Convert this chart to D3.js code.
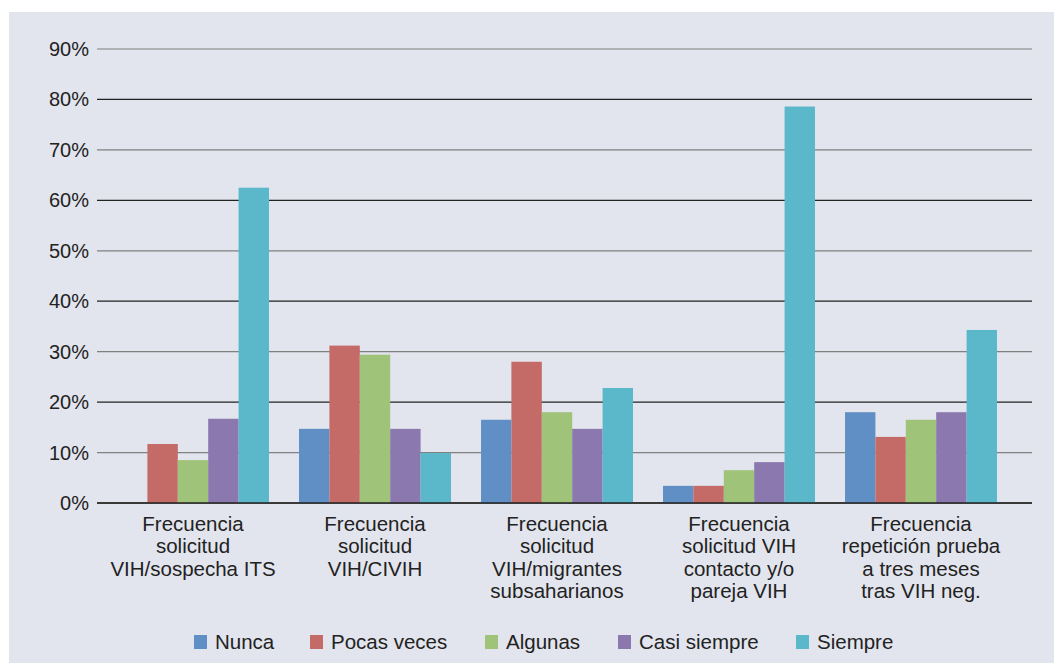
<!DOCTYPE html>
<html>
<head>
<meta charset="utf-8">
<script src="https://cdn.jsdelivr.net/npm/d3@7"></script>
<style>
  body { margin: 0; background: #fff; }
  svg { display: block; font-family: "Liberation Sans", Arial, sans-serif; }
</style>
</head>
<body>
<div id="chart"></div>
<script>
const categories = [
  ["Frecuencia", "solicitud", "VIH/sospecha ITS"],
  ["Frecuencia", "solicitud", "VIH/CIVIH"],
  ["Frecuencia", "solicitud", "VIH/migrantes", "subsaharianos"],
  ["Frecuencia", "solicitud VIH", "contacto y/o", "pareja VIH"],
  ["Frecuencia", "repetición prueba", "a tres meses", "tras VIH neg."]
];
const seriesNames = ["Nunca", "Pocas veces", "Algunas", "Casi siempre", "Siempre"];
const seriesColors = ["#5f8fc4", "#c46a67", "#a0c37a", "#8a78ae", "#5bb7ca"];
const nunca = [0, 14.7, 16.5, 3.4, 18.0];
const pocasVeces = [11.7, 31.2, 28.0, 3.4, 13.1];
const algunas = [8.5, 29.4, 18.0, 6.5, 16.5];
const casiSiempre = [16.7, 14.7, 14.7, 8.1, 18.0];
const siempre = [62.5, 9.9, 22.8, 78.6, 34.3];
const yTicks = [0, 10, 20, 30, 40, 50, 60, 70, 80, 90];

const series = [nunca, pocasVeces, algunas, casiSiempre, siempre];

const width = 1054, height = 663;
const svg = d3.select("#chart").append("svg")
  .attr("width", width)
  .attr("height", height);

// panel background
svg.append("rect")
  .attr("x", 9).attr("y", 12)
  .attr("width", width - 9).attr("height", height - 12)
  .attr("fill", "#e2e5ed");

const y = d3.scaleLinear().domain([0, 90]).range([503, 49]);
const x0 = d3.scaleBand().domain(d3.range(categories.length)).range([102, 1012]).paddingInner(0.165).paddingOuter(0.0825);
const x1 = d3.scaleBand().domain(d3.range(seriesNames.length)).range([0, x0.bandwidth()]);

// gridlines (alternate dark / grey)
svg.append("g")
  .selectAll("line")
  .data(yTicks)
  .join("line")
  .attr("x1", 97).attr("x2", 1032)
  .attr("y1", d => y(d)).attr("y2", d => y(d))
  .attr("stroke", d => (d / 10) % 2 === 0 ? "#222" : "#808080")
  .attr("stroke-width", 1.2);

// y labels
svg.append("g")
  .selectAll("text")
  .data(yTicks)
  .join("text")
  .attr("x", 89)
  .attr("y", d => y(d) + 7)
  .attr("text-anchor", "end")
  .attr("fill", "#222")
  .style("font-size", "20px")
  .text(d => d + "%");

// bars
const groups = svg.append("g")
  .selectAll("g")
  .data(categories.map((c, i) => i))
  .join("g")
  .attr("transform", i => `translate(${x0(i)},0)`);

groups.selectAll("rect")
  .data(i => series.map((s, k) => ({ k, v: s[i] })))
  .join("rect")
  .attr("x", d => x1(d.k))
  .attr("y", d => y(d.v))
  .attr("width", x1.bandwidth())
  .attr("height", d => y(0) - y(d.v))
  .attr("fill", d => seriesColors[d.k]);

// baseline on top
svg.append("line")
  .attr("x1", 97).attr("x2", 1032)
  .attr("y1", y(0)).attr("y2", y(0))
  .attr("stroke", "#222").attr("stroke-width", 1.5);

// category labels
const labels = svg.append("g")
  .selectAll("text")
  .data(categories)
  .join("text")
  .attr("x", (d, i) => x0(i) + x0.bandwidth() / 2)
  .attr("y", 531)
  .attr("text-anchor", "middle")
  .attr("fill", "#222")
  .style("font-size", "20.5px");

labels.selectAll("tspan")
  .data(d => d)
  .join("tspan")
  .attr("x", function () { return this.parentNode.getAttribute("x"); })
  .attr("dy", (d, i) => i === 0 ? 0 : 22.4)
  .text(d => d);

// legend
const legendX = [194, 310, 485, 618, 796];
const legend = svg.append("g")
  .selectAll("g")
  .data(seriesNames)
  .join("g")
  .attr("transform", (d, i) => `translate(${legendX[i]},635)`);

legend.append("rect")
  .attr("width", 13).attr("height", 14)
  .attr("fill", (d, i) => seriesColors[i]);

legend.append("text")
  .attr("x", 21)
  .attr("y", 14)
  .attr("fill", "#222")
  .style("font-size", "20.5px")
  .text(d => d);
</script>
</body>
</html>
